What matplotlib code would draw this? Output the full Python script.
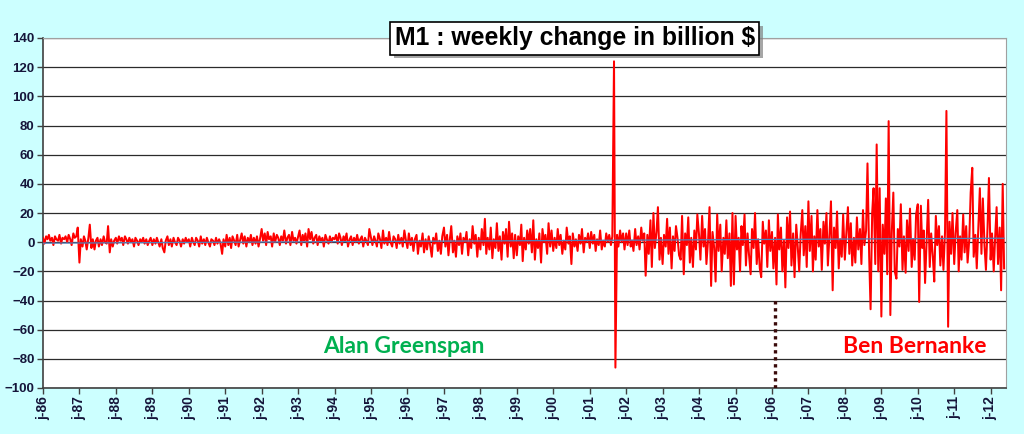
#!/usr/bin/env python3
"""
M1 weekly change chart (billion $), 1986 - mid 2012.
Output: out.png
"""
import matplotlib
matplotlib.use("Agg")
import matplotlib.pyplot as plt
import matplotlib.dates as mdates
import matplotlib.patheffects as pe
import numpy as np
import pandas as pd

plt.rcParams.update({
    "font.family": "Liberation Sans",
    "font.weight": "bold",
})

# change in M1, billion $ (about two readings per month)
CHG_86 = [3, -1, 4, 2, 5, 1, 3, -2, 4, 2, 1, 5, -1, 3, 2, 4, 0, 5, 2, -2, 6, 3, 4, 10]
CHG_87 = [-14, 2, -3, 4, 1, -5, 3, 12, -4, 2, -5, 1, 3, -3, 2, -2, 4, 0, -1, 11, -7, 2, -3, 1]
CHG_88 = [3, -1, 4, 1, 3, -2, 4, 2, -1, 3, 0, 2, -3, 3, 1, -2, 2, 0, 3, -1, 2, -2, 1, 3]
CHG_89 = [-2, 2, -1, 3, 0, -3, 2, -4, -7, 1, 4, -2, 2, -3, 3, 0, -2, 3, 1, -3, 2, -1, 3, 0]
CHG_90 = [2, -3, 3, 0, -2, 3, 1, -3, 4, -1, 2, -2, 3, 0, -3, 2, 1, -2, 3, -1, 2, -1, -8, 2]
CHG_91 = [-3, 5, -2, 3, -4, 4, 1, -2, 5, -3, 2, 6, -1, 4, -3, 3, 0, 5, -2, 3, -1, 4, -3, 2]
CHG_92 = [9, 1, 6, -2, 7, 2, 4, -3, 6, 0, 5, 3, -2, 4, 1, 8, -1, 3, 5, -2, 7, 1, 3, -1]
CHG_93 = [4, 8, -2, 5, 1, 6, -3, 9, 2, 7, -1, 3, 5, -2, 4, 1, 3, -3, 5, 2, -1, 4, 0, 3]
CHG_94 = [2, 5, -1, 6, 3, -2, 4, 1, 6, -3, 2, 4, -2, 3, 0, 5, -1, 2, 4, -3, 3, 1, -2, 9]
CHG_95 = [3, -2, 4, 1, -3, 6, 2, -4, 8, -1, 3, -2, 7, 0, -3, 4, 2, -4, 5, -1, 3, -3, 8, 2]
CHG_96 = [-4, 6, -2, 3, -6, 2, 5, -8, 1, -3, 6, -7, 2, -5, 4, -2, -10, 3, -1, 6, -6, 1, -8, 4]
CHG_97 = [10, -3, 5, -9, 2, 11, -7, 1, -10, 4, -2, 6, -8, 3, 0, 7, -9, 2, -4, 11, -1, 5, -10, 3]
CHG_98 = [-5, 9, -2, 16, -8, 3, -5, 10, -11, 2, -4, 13, -6, 4, -12, 7, -1, 9, -10, 14, -3, 6, -11, 5]
CHG_99 = [-9, 4, -2, 12, -13, 3, -5, 8, -1, 9, -7, 15, -12, 2, -4, 6, -14, 9, 0, 5, -8, 13, -3, 8]
CHG_00 = [-6, 3, -4, 9, -2, 5, -8, 1, -5, 10, -1, 4, -15, 6, -3, 2, -6, 5, -1, 9, -7, 3, 0, 6]
CHG_01 = [-4, 7, -1, 5, -6, 2, -2, 8, -5, 1, -3, 6, 0, 5, -2, 4, 124, -86, 5, -3, 8, 0, 6, -5]
CHG_02 = [6, -2, 8, -3, 1, -6, 9, -2, 4, -5, 10, 1, 6, -23, 5, -8, 15, -17, 20, -4, 7, 24, -12, 3]
CHG_03 = [-15, 5, -3, 16, -8, 10, -18, 4, -6, 11, 2, -9, -12, 18, -22, 6, -2, 17, -14, 3, -17, 8, -5, 19]
CHG_04 = [5, -12, 18, -3, 9, -15, 2, 24, -30, 7, -4, -27, 19, -6, 12, -20, 3, -8, 15, -11, 6, -30, 20, -29]
CHG_05 = [18, -5, 3, -20, 11, -2, 19, -16, 6, -8, -22, 9, -4, 20, -15, 2, -18, -24, 14, -1, 8, -17, 15, -6]
CHG_06 = [7, -18, 3, -29, 19, -5, 10, -20, 1, -31, 17, -4, 21, -16, 6, -24, 12, -2, -20, 5, 22, -9, 11, -17]
CHG_07 = [28, -6, 18, -20, 4, -12, 22, -3, 9, -19, 14, -1, 20, -16, 6, 28, -33, 10, -4, 21, -18, 2, -10, 19]
CHG_08 = [-12, 5, 24, -8, 13, -16, 3, -14, 17, -5, 9, -15, 22, -2, 8, 54, -10, -46, 20, 37, -15, 67, -20, 37]
CHG_09 = [-51, 12, -8, 30, -22, 83, -50, 6, 34, -20, -25, 9, -3, 26, -19, 4, -21, 15, -6, 23, -17, 2, -12, 19]
CHG_10 = [26, -41, 25, -4, 8, -28, 3, 29, -17, 6, -10, -27, 18, -2, 11, -16, 4, -19, 7, 90, -58, 14, -8, 20]
CHG_11 = [-15, 6, 22, -20, 4, -12, 19, -7, 11, -14, 2, 34, 51, -10, 5, -18, 12, 37, -8, 30, -3, -19, 10, 44]
CHG_12 = [-12, 6, -20, 3, 24, -15, 10, -33, 40, -18]

# thin blue trend line, start and end level
TREND_ENDS = [-0.7, 2.7]

TICK_YEARS = list(range(1986, 2013))
BERNANKE_START = "2006-02-01"
BERNANKE_LINE_TOP = -38

values = np.array(CHG_86 + CHG_87 + CHG_88 + CHG_89 + CHG_90 + CHG_91 + CHG_92
                  + CHG_93 + CHG_94 + CHG_95 + CHG_96 + CHG_97 + CHG_98 + CHG_99
                  + CHG_00 + CHG_01 + CHG_02 + CHG_03 + CHG_04 + CHG_05 + CHG_06
                  + CHG_07 + CHG_08 + CHG_09 + CHG_10 + CHG_11 + CHG_12, dtype=float)
dates = pd.date_range("1986-01-01", periods=len(values), freq="SMS")

fig = plt.figure(figsize=(10.24, 4.34), dpi=100, facecolor="#CCFFFF")
ax = fig.add_axes([43 / 1024, 46 / 434, 963 / 1024, 350 / 434])
ax.set_facecolor("white")

ax.set_ylim(-100, 140)
ax.set_yticks(np.arange(-100, 141, 20))
ax.grid(axis="y", color="#2b2b2b", linewidth=0.9, zorder=0)
ax.set_axisbelow(True)

ax.plot(dates, values, color="#FF0000", linewidth=1.45, zorder=3)
ax.plot([dates[0], dates[-1]], TREND_ENDS, color="#4F81BD", linewidth=0.9, zorder=4)

ax.vlines(pd.Timestamp(BERNANKE_START), -100, BERNANKE_LINE_TOP, colors="#3a0a0a",
          linewidth=2.4, linestyles=(0, (1, 1.1)), zorder=5)

ax.set_xlim(pd.Timestamp("1986-01-01"), pd.Timestamp("2012-06-03"))
ax.set_xticks([mdates.date2num(pd.Timestamp(f"{y}-01-01")) for y in TICK_YEARS])
ax.set_xticklabels([f"j-{y % 100:02d}" for y in TICK_YEARS], rotation=90,
                   fontsize=10, fontweight="bold", color="#15153a")
for lab in ax.get_yticklabels():
    lab.set_fontsize(9.5)
    lab.set_fontweight("bold")
    lab.set_color("#15153a")
ax.tick_params(axis="both", direction="out", length=4, width=1, color="#404040", pad=2)

for side in ("top", "right"):
    ax.spines[side].set_color("#A0A0A0")
for side in ("left", "bottom"):
    ax.spines[side].set_color("#404040")
    ax.spines[side].set_linewidth(1.2)

ax.text(0.375, -76.3, "Alan Greenspan", transform=ax.get_yaxis_transform(),
        ha="center", va="baseline", color="#00B050", fontsize=16.5,
        fontweight="bold", family="Lato", zorder=6)
ax.text(0.9055, -76.3, "Ben Bernanke", transform=ax.get_yaxis_transform(),
        ha="center", va="baseline", color="#FF0000", fontsize=16.5,
        fontweight="bold", family="Lato", zorder=6)

title = fig.text(574.8 / 1024, 1 - 38.3 / 434, "M1 : weekly change in billion $",
                 ha="center", va="center", fontsize=17.8, fontweight="bold", color="black",
                 bbox=dict(boxstyle="square,pad=0.17", facecolor="white",
                           edgecolor="black", linewidth=1.2))
title.get_bbox_patch().set_path_effects(
    [pe.withSimplePatchShadow(offset=(2.5, -2.5), shadow_rgbFace="#808080", alpha=0.7)])

fig.savefig("out.png", dpi=100, facecolor=fig.get_facecolor())
print("Saved -> out.png")
